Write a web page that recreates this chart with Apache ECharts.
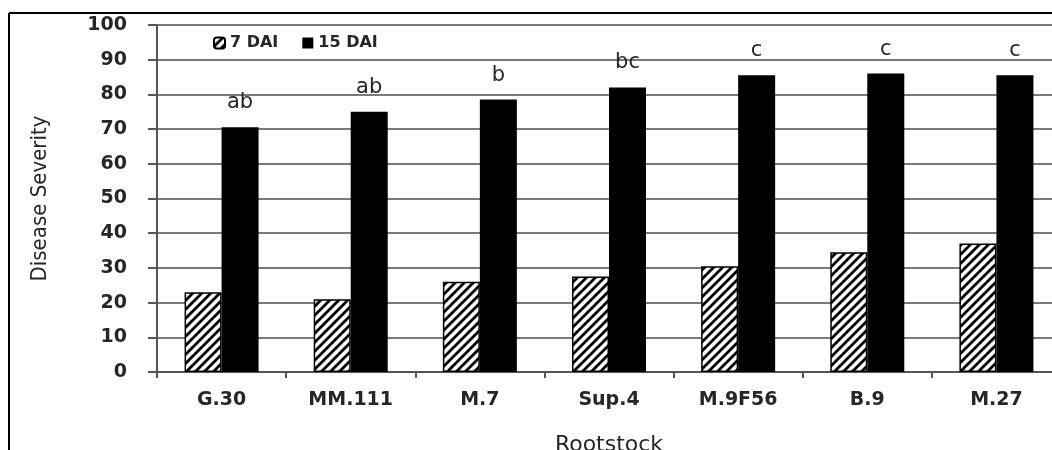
<!DOCTYPE html>
<html>
<head>
<meta charset="utf-8">
<script src="https://cdn.jsdelivr.net/npm/echarts@6/dist/echarts.min.js"></script>
<style>
  html, body { margin: 0; padding: 0; background: #fff; }
  #chart { width: 1052px; height: 450px; }
</style>
</head>
<body>
<div id="chart"></div>
<script>
const rootstocks = ["G.30", "MM.111", "M.7", "Sup.4", "M.9F56", "B.9", "M.27"];
const dai7 = [23, 21, 26, 27.5, 30.5, 34.5, 37];
const dai15 = [70.5, 75, 78.5, 82, 85.5, 86, 85.5];
const letters15 = ["ab", "ab", "b", "bc", "c", "c", "c"];
const yTicks = [0, 10, 20, 30, 40, 50, 60, 70, 80, 90, 100];

// diagonal hatch for the 7 DAI bars
function hatch() {
  const s = 9;
  const cv = document.createElement("canvas");
  cv.width = s; cv.height = s;
  const g = cv.getContext("2d");
  g.fillStyle = "#fff";
  g.fillRect(0, 0, s, s);
  g.strokeStyle = "#000";
  g.lineWidth = 2.8;
  g.beginPath();
  g.moveTo(-2, s + 2); g.lineTo(s + 2, -2);
  g.moveTo(-2, 2); g.lineTo(2, -2);
  g.moveTo(s - 2, s + 2); g.lineTo(s + 2, s - 2);
  g.stroke();
  return cv;
}
const hatchFill = { image: hatch(), repeat: "repeat" };

const chart = echarts.init(document.getElementById("chart"), null, { renderer: "canvas" });
const txt = "#262626";
const font = "DejaVu Sans, Verdana, sans-serif";

chart.setOption({
  animation: false,
  backgroundColor: "#fff",
  textStyle: { fontFamily: font },
  graphic: [
    { type: "line", shape: { x1: 9, y1: 13, x2: 1052, y2: 13 }, style: { stroke: "#000", lineWidth: 2 } },
    { type: "line", shape: { x1: 9, y1: 13, x2: 9, y2: 450 }, style: { stroke: "#000", lineWidth: 2 } }
  ],
  legend: {
    left: 207, top: 31,
    itemWidth: 11, itemHeight: 11, itemGap: 24,
    backgroundColor: "#fff",
    padding: [4, 6],
    textStyle: { color: txt, fontSize: 16, fontWeight: "bold", fontFamily: font },
    data: [
      { name: "7 DAI", icon: "roundRect" },
      { name: "15 DAI", icon: "rect" }
    ]
  },
  grid: { left: 157, top: 25, width: 904, height: 347, containLabel: false, outerBoundsMode: "none" },
  xAxis: {
    type: "category",
    data: rootstocks,
    name: "Rootstock",
    nameLocation: "middle",
    nameGap: 62,
    nameTextStyle: { color: txt, fontSize: 22, fontFamily: font },
    axisLine: { lineStyle: { color: "#555", width: 2 } },
    axisTick: { show: true, length: 6, lineStyle: { color: "#555", width: 2 } },
    axisLabel: { color: txt, fontSize: 19, fontWeight: "bold", margin: 19, fontFamily: font }
  },
  yAxis: {
    type: "value",
    min: 0, max: 100, interval: 10,
    name: "Disease Severity",
    nameLocation: "middle",
    nameGap: 106,
    nameTextStyle: { color: txt, fontSize: 22, fontFamily: "DejaVu Sans Condensed, DejaVu Sans, sans-serif" },
    axisLine: { show: true, lineStyle: { color: "#555", width: 2 } },
    axisTick: { show: true, length: 9, lineStyle: { color: "#555", width: 2 } },
    splitLine: { lineStyle: { color: "#7a7a7a", width: 2 } },
    axisLabel: {
      color: txt, fontSize: 19, fontWeight: "bold", margin: 30, fontFamily: font,
      formatter: (v) => (yTicks.includes(v) ? String(v) : "")
    }
  },
  series: [
    {
      name: "7 DAI",
      type: "bar",
      data: dai7,
      barWidth: 37,
      barGap: "0%",
      itemStyle: { color: hatchFill, borderColor: "#000", borderWidth: 1.5 }
    },
    {
      name: "15 DAI",
      type: "bar",
      data: dai15,
      barWidth: 37,
      barGap: "0%",
      itemStyle: { color: "#000" },
      label: {
        show: true,
        position: "top",
        distance: 14,
        color: txt,
        fontSize: 21,
        fontFamily: font,
        formatter: (p) => letters15[p.dataIndex]
      }
    }
  ]
});
</script>
</body>
</html>
